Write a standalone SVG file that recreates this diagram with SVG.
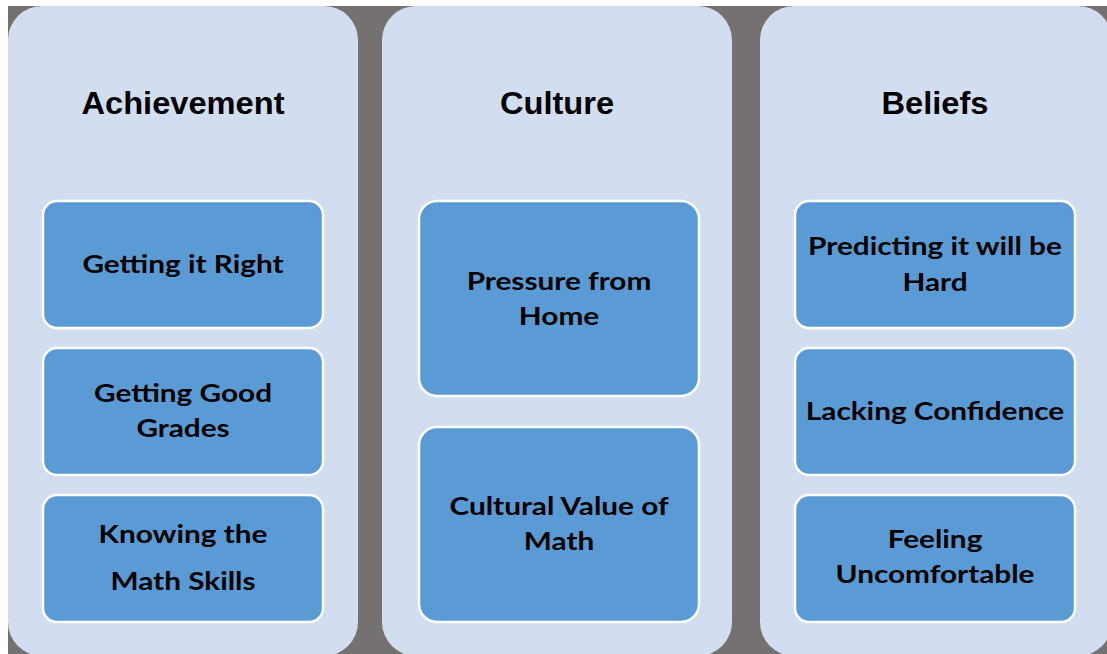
<svg xmlns="http://www.w3.org/2000/svg" width="1107" height="654" viewBox="0 0 1107 654">
<style>
.panel{fill:#D2DEEF;}
.box{fill:#5B9BD5;stroke:#FFFFFF;stroke-width:2.5;}
.title{font-family:"Liberation Sans",Arial,sans-serif;font-weight:bold;font-size:32px;fill:#000;text-anchor:middle;}
.lbl{font-family:Lato,"Open Sans",sans-serif;font-weight:bold;font-size:25px;fill:#000;text-anchor:middle;}
</style>
<rect x="0" y="0" width="1107" height="654" fill="#FFFFFF"/>
<rect x="8" y="6" width="1099" height="648" fill="#767171"/>
<g id="col-achievement">
<rect class="panel" x="8" y="6" width="350" height="650" rx="34"/>
<text class="title" transform="translate(183 0) scale(1.02 1)" x="0" y="114">Achievement</text>
</g>
<g id="col-culture">
<rect class="panel" x="382" y="6" width="350" height="650" rx="34"/>
<text class="title" transform="translate(557 0) scale(1.02 1)" x="0" y="114">Culture</text>
</g>
<g id="col-beliefs">
<rect class="panel" x="760" y="6" width="352" height="650" rx="34"/>
<text class="title" transform="translate(935 0) scale(1.02 1)" x="0" y="114">Beliefs</text>
</g>
<g id="n-getting-right">
<rect class="box" x="43" y="201" width="280" height="127" rx="14"/>
<text class="lbl" transform="translate(183 0) scale(1.19 1)" x="0" y="273">Getting it Right</text>
</g>
<g id="n-good-grades">
<rect class="box" x="43" y="348" width="280" height="127" rx="14"/>
<text class="lbl" transform="translate(183 0) scale(1.19 1)" x="0" y="402">Getting Good</text>
<text class="lbl" transform="translate(183 0) scale(1.19 1)" x="0" y="437">Grades</text>
</g>
<g id="n-math-skills">
<rect class="box" x="43" y="495" width="280" height="127" rx="14"/>
<text class="lbl" transform="translate(183 0) scale(1.19 1)" x="0" y="543">Knowing the</text>
<text class="lbl" transform="translate(183 0) scale(1.19 1)" x="0" y="590">Math Skills</text>
</g>
<g id="n-pressure-home">
<rect class="box" x="419" y="201" width="280" height="195" rx="18"/>
<text class="lbl" transform="translate(559 0) scale(1.19 1)" x="0" y="290">Pressure from</text>
<text class="lbl" transform="translate(559 0) scale(1.19 1)" x="0" y="325">Home</text>
</g>
<g id="n-cultural-value">
<rect class="box" x="419" y="427" width="280" height="195" rx="18"/>
<text class="lbl" transform="translate(559 0) scale(1.19 1)" x="0" y="515">Cultural Value of</text>
<text class="lbl" transform="translate(559 0) scale(1.19 1)" x="0" y="550">Math</text>
</g>
<g id="n-predicting-hard">
<rect class="box" x="795" y="201" width="280" height="127" rx="14"/>
<text class="lbl" transform="translate(935 0) scale(1.19 1)" x="0" y="255">Predicting it will be</text>
<text class="lbl" transform="translate(935 0) scale(1.19 1)" x="0" y="291">Hard</text>
</g>
<g id="n-lacking-confidence">
<rect class="box" x="795" y="348" width="280" height="127" rx="14"/>
<text class="lbl" transform="translate(935 0) scale(1.19 1)" x="0" y="420">Lacking Confidence</text>
</g>
<g id="n-uncomfortable">
<rect class="box" x="795" y="495" width="280" height="127" rx="14"/>
<text class="lbl" transform="translate(935 0) scale(1.19 1)" x="0" y="548">Feeling</text>
<text class="lbl" transform="translate(935 0) scale(1.19 1)" x="0" y="583">Uncomfortable</text>
</g>
<g id="connectors"></g>
</svg>
